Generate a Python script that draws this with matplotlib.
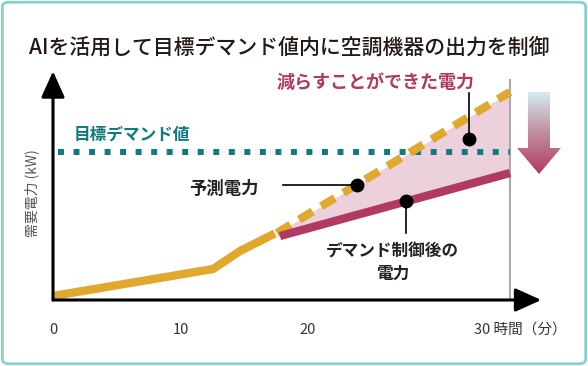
import numpy as np
import matplotlib.pyplot as plt
from matplotlib.patches import FancyArrowPatch, FancyBboxPatch, Polygon
from matplotlib.colors import LinearSegmentedColormap

plt.rcParams['font.family'] = ['Noto Sans CJK JP', 'DejaVu Sans']

# data (x: minutes, y: kW, schematic)
actual_x = [0, 12.55, 14.67, 17.4]
actual_y = [1.6, 12.4, 19.6, 26.6]
forecast_x = [17.57, 35.84]
forecast_y = [26.8, 83.2]
controlled_x = [17.8, 35.84]
controlled_y = [25.6, 50.8]
target_y = 59.2
target_x = [0.4, 35.84]
end_x = 35.84
xtick_pos = [0, 10, 20, 33.0]
xtick_labels = ['0', '10', '20', '30 時間（分）']
xtick_ha = ['center', 'center', 'center', 'left']

YELLOW = '#e0a82e'
MAGENTA = '#b03a62'
TEAL = '#0f7b7b'
PINK = '#ecd1dd'

fig = plt.figure(figsize=(5.88, 3.66), dpi=100)
ax = fig.add_axes([0, 0, 1, 1])
ax.set_xlim(-53 / 12.75, (588 - 53) / 12.75)
ax.set_ylim(-66 / 2.5, 300 / 2.5)
ax.axis('off')

# frame
fig.patches.append(FancyBboxPatch((0.004, 0.006), 0.992, 0.988, boxstyle='round,pad=0,rounding_size=0.012',
                                  transform=fig.transFigure, fc='none', ec='#86d2c9', lw=2))

# reduced area
fx = np.linspace(forecast_x[0], end_x, 50)
ax.fill_between(fx, np.interp(fx, controlled_x, controlled_y), np.interp(fx, forecast_x, forecast_y),
                color=PINK, lw=0, zorder=1)

# end-of-period line
ax.plot([end_x, end_x], [0, 88], color='#aaaaaa', lw=1.5, zorder=2)

# target
ax.plot(target_x, [target_y, target_y], color=TEAL, lw=4.3, ls=(0, (1, 1.6)), dash_capstyle='butt', zorder=3)
ax.text(1.6, target_y + 7, '目標デマンド値', color=TEAL, fontsize=12, fontweight='bold', va='center')

# lines
ax.plot(actual_x, actual_y, color=YELLOW, lw=6, solid_capstyle='butt', solid_joinstyle='miter', zorder=4)
ax.plot(forecast_x, forecast_y, color=YELLOW, lw=6, ls=(0, (1.9, 1.2)), dash_capstyle='butt', zorder=4)
ax.plot(controlled_x, controlled_y, color=MAGENTA, lw=6, solid_capstyle='butt', zorder=4)

# axes with arrows
for start, end in [((0, 0), (0, 91.5)), ((0, 0), (38.3, 0))]:
    ax.add_patch(FancyArrowPatch(start, end, arrowstyle='-|>,head_length=1.0,head_width=0.45',
                                 mutation_scale=16, color='black', lw=2.2, zorder=5,
                                 shrinkA=0, shrinkB=0))

for xp, lab, ha in zip(xtick_pos, xtick_labels, xtick_ha):
    ax.text(xp, -11.8, lab, ha=ha, va='center', fontsize=10.5, color='#333333')

ax.text(-1.65, 42.8, '需要電力 (kW)', rotation=90, ha='center', va='center', fontsize=10, color='#555555')

# callouts
dot_kw = dict(marker='o', ms=9, color='black', zorder=6)
fx1 = 23.84
fy1 = np.interp(fx1, forecast_x, forecast_y)
ax.plot(fx1, fy1, **dot_kw)
ax.plot([18.0, fx1], [fy1, fy1], color='black', lw=1.2, zorder=6)
ax.text(13.4, fy1 - 1.6, '予測電力', fontsize=12.5, fontweight='bold', ha='center', va='center', color='#222222')

cx1 = 27.69
cy1 = np.interp(cx1, controlled_x, controlled_y)
ax.plot(cx1, cy1, **dot_kw)
ax.plot([cx1, cx1], [cy1, 27], color='black', lw=1.2, zorder=6)
ax.text(26.6, 15.0, 'デマンド制御後の\n電力', fontsize=12, fontweight='bold', ha='center', va='center',
        color='#222222', linespacing=1.3)

rx1 = 32.63
ry_lo = np.interp(rx1, controlled_x, controlled_y)
ry_hi = np.interp(rx1, forecast_x, forecast_y)
ry1 = ry_lo + 0.67 * (ry_hi - ry_lo)
ax.plot(rx1, ry1, **dot_kw)
ax.plot([rx1, rx1], [ry1, 82.8], color='black', lw=1.2, zorder=6)
ax.text(25.3, 87, '減らすことができた電力', fontsize=13, fontweight='bold', ha='center', va='center', color=MAGENTA)

# title
ax.text(-1.85, 100.8, 'AIを活用して目標デマンド値内に空調機器の出力を制御', fontsize=15, fontweight='medium',
        ha='left', va='center', color='#231815')

# gradient arrow
arrow_pts = [(37.25, 83.2), (38.98, 83.2), (38.98, 60.8), (39.84, 60.8), (38.12, 50.4),
             (36.39, 60.8), (37.25, 60.8)]
poly = Polygon(arrow_pts, closed=True, fc='none', ec='none')
ax.add_patch(poly)
grad = np.linspace(0, 1, 256).reshape(-1, 1)
cmap = LinearSegmentedColormap.from_list('g', ['#d3ebf1', '#c08d9f', '#b03a62'])
im = ax.imshow(grad, cmap=cmap, extent=[36.3, 39.9, 50.4, 83.2], origin='upper', aspect='auto', zorder=3)
im.set_clip_path(poly)

fig.savefig('out.png', dpi=100)
